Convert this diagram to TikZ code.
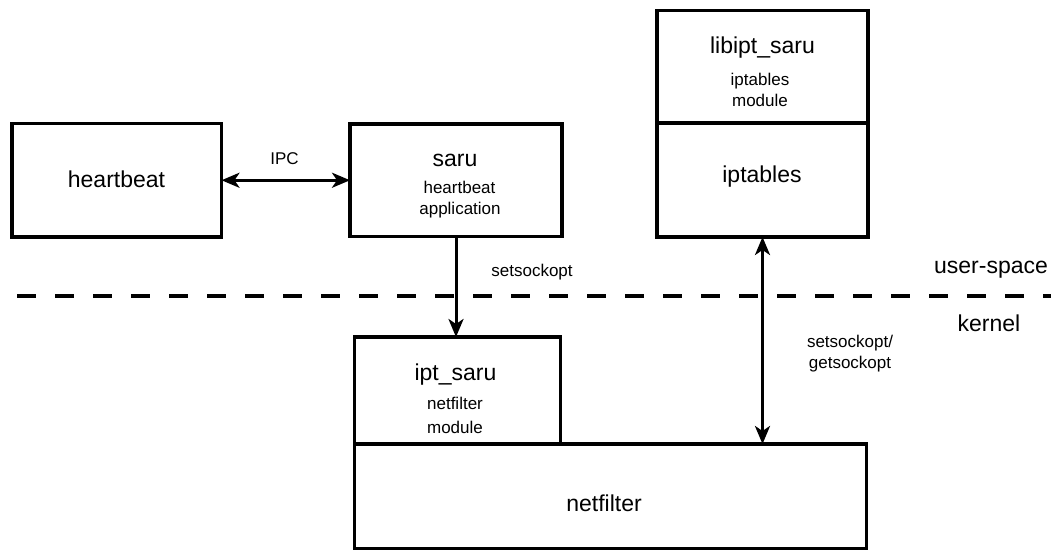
\documentclass[tikz,border=0pt]{standalone}
\usepackage{fontspec}
\setmainfont{Liberation Sans}
\usetikzlibrary{arrows.meta}
\tikzset{
  box/.style={draw, line width=3.5pt, inner sep=0pt, outer sep=0pt},
  big/.style={font=\fontsize{23}{25}\selectfont, inner sep=0pt, anchor=base},
  small/.style={font=\fontsize{17}{19}\selectfont, inner sep=0pt, anchor=base},
  conn/.style={line width=3pt, -{Stealth[length=18pt,width=15pt,inset=5pt]}},
  dconn/.style={line width=3pt, {Stealth[length=18pt,width=15pt,inset=5pt]}-{Stealth[length=18pt,width=15pt,inset=5pt]}},
  sep/.style={line width=4pt, dash pattern=on 19pt off 19pt}
}
\begin{document}
\begin{tikzpicture}[x=1pt,y=-1pt]
\useasboundingbox (0,0) rectangle (1051,551);
% boxes
\node[box, minimum width=209.5pt, minimum height=113.5pt] (hb) at (116.75,180.25) {};
\node[box, minimum width=212pt, minimum height=112.5pt] (saru) at (456,180.25) {};
\node[box, minimum width=211pt, minimum height=112.5pt] (lib) at (762.5,66.75) {};
\node[box, minimum width=211pt, minimum height=114pt] (ipt) at (762.5,180) {};
\node[box, minimum width=512pt, minimum height=104.5pt] (nf) at (610.5,496.25) {};
\node[box, minimum width=206pt, minimum height=107pt] (iptsaru) at (457.5,390.5) {};
% texts
\node[big] (thb) at (116.5,187) {heartbeat};
\node[big] (tsaru) at (455,166) {saru};
\node[small] (tsaru2) at (459.5,193) {heartbeat};
\node[small] (tsaru3) at (460,214) {application};
\node[big] (tlib) at (762.5,53) {libipt\_saru};
\node[small] (tlib2) at (760,85) {iptables};
\node[small] (tlib3) at (760,106) {module};
\node[big] (tipt) at (762,182) {iptables};
\node[big] (tiptsaru) at (455.5,380) {ipt\_saru};
\node[small] (tiptsaru2) at (455,409) {netfilter};
\node[small] (tiptsaru3) at (455,433) {module};
\node[big] (tnf) at (604,511) {netfilter};
\node[big] (tus) at (991,273) {user-space};
\node[big] (tk) at (989,331.5) {kernel};
% separator
\coordinate (dl) at (17,296);
\coordinate (dr) at (1051,296);
\draw[sep] (dl) -- (dr);
% connectors
\draw[dconn] (hb.east) -- (saru.west);
\node[small] (lipc) at (284.5,164) {IPC};
\draw[conn] (saru.south) -- (saru.south |- iptsaru.north);
\node[small] (lset) at (532,276.5) {setsockopt};
\draw[dconn] (ipt.south) -- (ipt.south |- nf.north);
\node[small, anchor=center, align=center] (lsg) at (850,354) {setsockopt/\\[2pt]getsockopt};
\end{tikzpicture}
\end{document}
